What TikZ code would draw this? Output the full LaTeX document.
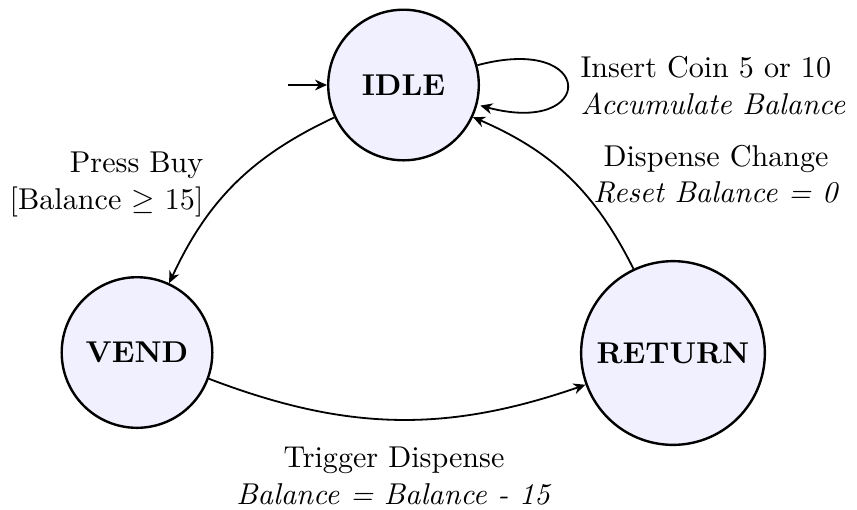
\documentclass[tikz,border=0pt]{standalone}
\usetikzlibrary{arrows.meta,automata}
\begin{document}
\begin{tikzpicture}[x=0.332pt,y=-0.332pt,
  >={Stealth[length=4pt,width=3.6pt,inset=1.3pt]},
  fsmstate/.style={state,circle,draw,thick,fill=blue!6,minimum size=50pt,font=\bfseries},
  trans/.style={->,semithick},
  lbl/.style={inner sep=0pt}]
\useasboundingbox (0,0) rectangle (857,509);
\node[fsmstate,initial,initial text={},initial where=left,initial distance=3ex,every initial by arrow/.style={semithick,->}] (idle) at (403.5,85) {IDLE};
\node[fsmstate] (vend) at (137,352.5) {VEND};
\node[fsmstate,minimum size=61pt] (ret) at (673,353) {RETURN};
\path[trans] (idle) edge[loop right] (idle)
  (idle) edge[bend right=20] (vend)
  (vend) edge[bend right=20] (ret)
  (ret) edge[bend right=20] (idle);
\node[lbl,anchor=west,align=left] (l1) at (580,85.5) {Insert Coin 5 or 10\\ \textit{Accumulate Balance}};
\node[lbl,align=center] (l2) at (716,174) {Dispense Change\\ \textit{Reset Balance = 0}};
\node[lbl,anchor=east,align=right] (l3) at (204,184.5) {Press Buy\\ {[}Balance $\geq$ 15{]}};
\node[lbl,align=center] (l4) at (394,476) {Trigger Dispense\\ \textit{Balance = Balance - 15}};
\end{tikzpicture}
\end{document}
